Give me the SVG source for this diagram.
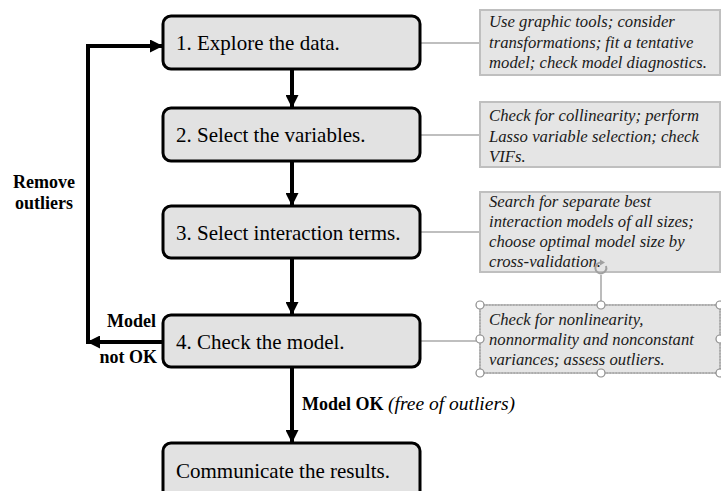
<svg xmlns="http://www.w3.org/2000/svg" width="721" height="491" viewBox="0 0 721 491">
  <style>
    .step rect { fill: #e2e2e2; stroke: #000; stroke-width: 3; }
    .step text { font-family: "Liberation Serif", "Times New Roman", serif; font-size: 21px; fill: #000; }
    .note rect { fill: #e5e5e5; stroke: #bfbfbf; stroke-width: 2; }
    .note text { font-family: "Liberation Serif", "Times New Roman", serif; font-style: italic; font-size: 16.7px; fill: #1a1a1a; }
    .flow { stroke: #000; stroke-width: 4; fill: none; }
    .link { stroke: #bfbfbf; stroke-width: 2; fill: none; }
    .lbl { font-family: "Liberation Serif", "Times New Roman", serif; font-size: 18px; fill: #000; }
    .b { font-weight: bold; }
    .i { font-style: italic; font-size: 19.5px; }
    .handle { fill: #fff; stroke: #8c8c8c; stroke-width: 1.2; }
  </style>
  <defs>
    <marker id="arrow" markerUnits="userSpaceOnUse" markerWidth="13" markerHeight="13" viewBox="0 0 13 13" refX="13" refY="6.5" orient="auto">
      <path d="M0,0 L13,6.5 L0,13 Z" fill="#000"/>
    </marker>
  </defs>

  <!-- connectors -->
  <g id="connectors">
    <line class="flow" x1="292" y1="69" x2="292" y2="108" marker-end="url(#arrow)"/>
    <line class="flow" x1="292" y1="161" x2="292" y2="206" marker-end="url(#arrow)"/>
    <line class="flow" x1="292" y1="258" x2="292" y2="315" marker-end="url(#arrow)"/>
    <line class="flow" x1="292" y1="367" x2="292" y2="443" marker-end="url(#arrow)"/>
    <!-- loop back from step 4 to step 1 -->
    <line class="flow" x1="163" y1="342" x2="87" y2="342" marker-end="url(#arrow)"/>
    <polyline class="flow" points="88,344 88,46 163,46" marker-end="url(#arrow)"/>
    <!-- note links -->
    <line class="link" x1="420" y1="43" x2="481" y2="43"/>
    <line class="link" x1="420" y1="135" x2="481" y2="135"/>
    <line class="link" x1="420" y1="232" x2="481" y2="232"/>
    <line class="link" x1="420" y1="341" x2="476" y2="341"/>
  </g>

  <!-- flow labels -->
  <g id="labels">
    <text class="lbl b" x="44" y="188" text-anchor="middle">Remove</text>
    <text class="lbl b" x="44" y="209" text-anchor="middle">outliers</text>
    <text class="lbl b" x="156" y="327" text-anchor="end">Model</text>
    <text class="lbl b" x="157" y="363" text-anchor="end">not OK</text>
    <text class="lbl" x="302" y="410"><tspan class="b">Model OK </tspan><tspan class="i">(free of outliers)</tspan></text>
  </g>

  <!-- steps -->
  <g id="step1" class="step">
    <rect x="163" y="16" width="257" height="53" rx="8"/>
    <text x="176" y="50">1. Explore the data.</text>
  </g>
  <g id="step2" class="step">
    <rect x="163" y="108" width="257" height="53" rx="8"/>
    <text x="176" y="142">2. Select the variables.</text>
  </g>
  <g id="step3" class="step">
    <rect x="163" y="206" width="257" height="52" rx="8"/>
    <text x="176" y="240">3. Select interaction terms.</text>
  </g>
  <g id="step4" class="step">
    <rect x="163" y="315" width="257" height="52" rx="8"/>
    <text x="176" y="349">4. Check the model.</text>
  </g>
  <g id="step5" class="step">
    <rect x="163" y="443" width="257" height="60" rx="8"/>
    <text x="176" y="478">Communicate the results.</text>
  </g>

  <!-- notes -->
  <g id="note1" class="note">
    <rect x="480" y="10" width="240" height="65"/>
    <text x="489" y="27">Use graphic tools; consider</text>
    <text x="489" y="48">transformations; fit a tentative</text>
    <text x="489" y="68">model; check model diagnostics.</text>
  </g>
  <g id="note2" class="note">
    <rect x="480" y="102" width="240" height="65"/>
    <text x="489" y="121">Check for collinearity; perform</text>
    <text x="489" y="142">Lasso variable selection; check</text>
    <text x="489" y="162">VIFs.</text>
  </g>
  <g id="note3" class="note">
    <rect x="480" y="192" width="240" height="80"/>
    <text x="489" y="207">Search for separate best</text>
    <text x="489" y="227">interaction models of all sizes;</text>
    <text x="489" y="247">choose optimal model size by</text>
    <text x="489" y="267">cross-validation.</text>
  </g>
  <g id="note4" class="note">
    <rect x="480" y="305" width="240" height="68"/>
    <rect x="480" y="305" width="240" height="68" style="fill:none;stroke:#9a9a9a;stroke-width:1;stroke-dasharray:1.5 1.5"/>
    <text x="489" y="325">Check for nonlinearity,</text>
    <text x="489" y="345">nonnormality and nonconstant</text>
    <text x="489" y="365">variances; assess outliers.</text>
    <!-- selection frame: rotate grip and sizing handles -->
    <line x1="601" y1="275" x2="601" y2="305" stroke="#a6a6a6" stroke-width="1.5"/>
    <path d="M606,266 A5.5,5.5 0 1 1 601.5,262.5" fill="none" stroke="#a0a0a0" stroke-width="2"/>
    <path d="M600,259.5 L605,262.5 L600,265.5 Z" fill="#a0a0a0"/>
    <circle class="handle" cx="480" cy="305" r="4"/>
    <circle class="handle" cx="601" cy="305" r="4"/>
    <circle class="handle" cx="720" cy="305" r="4"/>
    <circle class="handle" cx="480" cy="339" r="4"/>
    <circle class="handle" cx="720" cy="339" r="4"/>
    <circle class="handle" cx="480" cy="373" r="4"/>
    <circle class="handle" cx="601" cy="373" r="4"/>
    <circle class="handle" cx="720" cy="373" r="4"/>
  </g>
</svg>
